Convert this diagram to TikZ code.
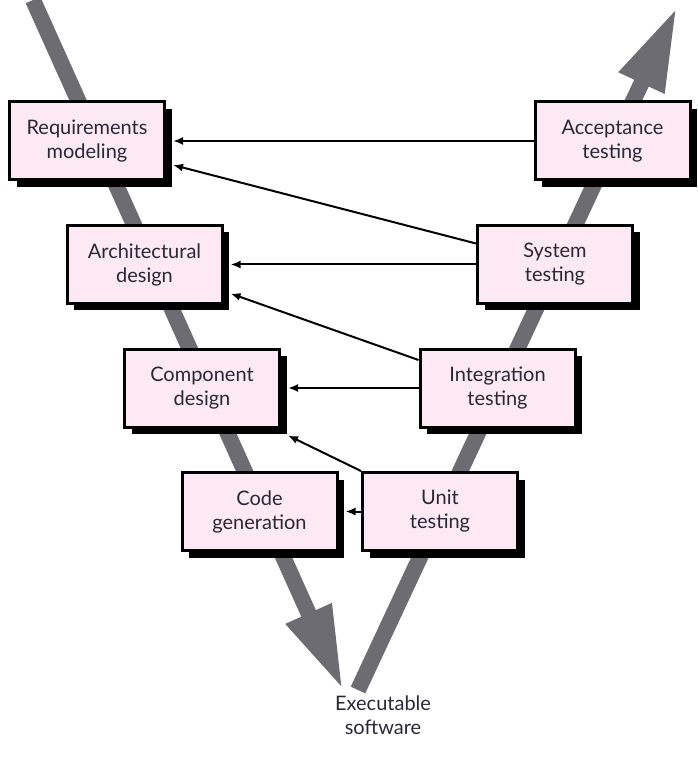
\documentclass[tikz,border=0pt]{standalone}
\usepackage{fontspec}
\setmainfont{Lato}
\usepackage{tikz}
\usetikzlibrary{arrows.meta,positioning,shadows}
\definecolor{veegrey}{RGB}{108,108,114}
\definecolor{boxpink}{RGB}{253,233,243}
\definecolor{inkdark}{RGB}{40,40,56}
\tikzset{
  base/.style={font=\fontsize{10}{12}\selectfont, align=center, inner sep=2pt, text=inkdark},
  box/.style={base, rectangle, draw=black, fill=boxpink, line width=1.5pt, minimum width=77.5pt, minimum height=39pt,
    drop shadow={shadow xshift=3.5pt, shadow yshift=-3.5pt, fill=black, opacity=1}},
  vee/.style={line width=8pt, draw=veegrey, -{Triangle[length=42pt,width=23pt]}},
  arr/.style={-{Latex[length=5pt,width=4pt]}, line width=1pt, draw=black},
}

\begin{document}
\begin{tikzpicture}[x=0.5pt,y=-0.5pt]
  \useasboundingbox (0,0) rectangle (697,774);
  % the V
  \coordinate (ltop) at (33,0);
  \coordinate (ltip) at (343,690);
  \coordinate (rtail) at (358,690);
  \coordinate (rtip) at (677,7);
  \draw[vee] (ltop) -- (ltip);
  \draw[vee] (rtail) -- (rtip);
  % left side
  \foreach \i/\n/\t in {0/reqs/{Requirements\\modeling},1/arch/{Architectural\\design},2/comp/{Component\\design},3/code/{Code\\generation}}{
    \node[box] (\n) at (87+57.5*\i,141+123.5*\i) {\t};
  }
  % right side
  \foreach \i/\n/\t in {0/accept/{Acceptance\\testing},1/systest/{System\\testing},2/integ/{Integration\\testing},3/unit/{Unit\\testing}}{
    \node[box] (\n) at (612.5-57.5*\i,141+123.5*\i) {\t};
  }
  \node[base] (exe) at (383,715) {Executable\\software};
  % links
  \draw[arr] (accept.west) -- ([xshift=3.5pt]reqs.east);
  \draw[arr] ([yshift=10.5pt]systest.west) -- ([xshift=3.5pt,yshift=-12pt]reqs.east);
  \draw[arr] (systest.west) -- ([xshift=3.5pt]arch.east);
  \draw[arr] ([yshift=14pt]integ.west) -- ([xshift=3.5pt,yshift=-14.5pt]arch.east);
  \draw[arr] (integ.west) -- ([xshift=3.5pt]comp.east);
  \draw[arr] (unit.north west) -- ([xshift=3.5pt,yshift=-3.5pt]comp.south east);
  \draw[arr] (unit.west) -- ([xshift=3.5pt]code.east);
\end{tikzpicture}
\end{document}
